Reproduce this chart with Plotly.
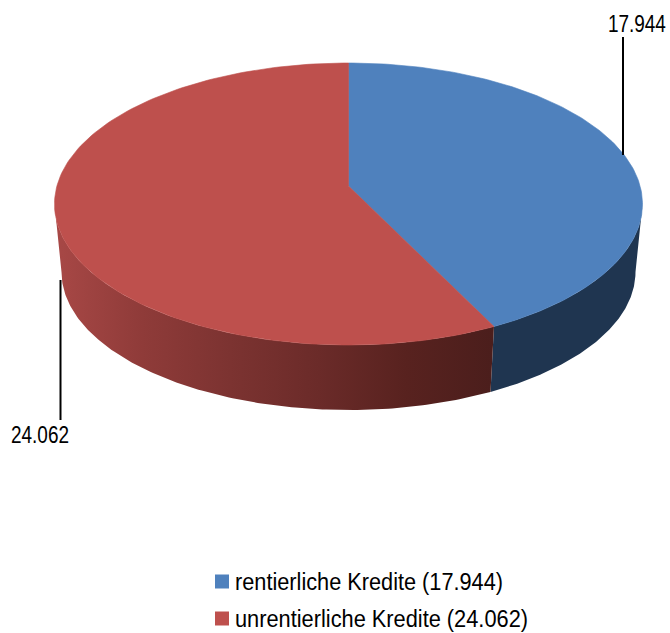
import numpy as np
import plotly.graph_objects as go

# ---- data ----
categories = ["rentierliche Kredite", "unrentierliche Kredite"]
values = [17944, 24062]
value_labels = ["17.944", "24.062"]

# ---- style / layout ----
W, H = 670, 633
FONT = "Liberation Sans, Arial, sans-serif"
TOP_COLORS = ["#4F81BD", "#BE504D"]
BLUE_WALL = "#1F3550"
RED_WALL = ["#A84846", "#8F3B39", "#7C3331", "#6B2B29", "#58221F", "#4B1E1C"]
TOP = dict(cx=348.5, cy=204.0, rx=294.0, ry=141.0)
BOTTOM = dict(cx=348.5, cy=272.0, rx=287.0, ry=138.0)
D = 18.0 / 141.0  # perspective shift of the pie centre


def rim(theta_deg, e):
    """Perspective projection of a disc point at clock angle theta."""
    t = np.radians(np.asarray(theta_deg, dtype=float))
    X, Y = np.sin(t), -np.cos(t)
    den = 1 - D * Y
    return e["cx"] + e["rx"] * X * np.sqrt(1 - D * D) / den, e["cy"] + e["ry"] * (Y - D) / den


def arc(a, b):
    return np.linspace(a, b, 160)


def centre(e):
    return e["cx"], e["cy"] - D * e["ry"]


def poly(x, y, line=None, **kw):
    return go.Scatter(x=list(x), y=list(y), mode="lines", fill="toself",
                      line=line or dict(width=0), hoverinfo="skip", showlegend=False, **kw)


def scale(cols):
    return [[i / (len(cols) - 1), c] for i, c in enumerate(cols)]


total = sum(values)
split = 360.0 * values[0] / total
edge = np.degrees(np.arccos(-D))  # silhouette angle, right side

fig = go.Figure()

# side walls
a = arc(edge, split)
xt, yt = rim(a, TOP); xb, yb = rim(a[::-1], BOTTOM)
fig.add_trace(poly(np.r_[xt, xb], np.r_[yt, yb], fillcolor=BLUE_WALL))
a = arc(split, 360 - edge)
xt, yt = rim(a, TOP); xb, yb = rim(a[::-1], BOTTOM)
fig.add_trace(poly(np.r_[xt, xb], np.r_[yt, yb],
                   fillgradient=dict(type="horizontal", colorscale=scale(RED_WALL))))

# top faces
cx0, cy0 = centre(TOP)
start = 0.0
for v, col in zip(values, TOP_COLORS):
    sweep = 360.0 * v / total
    x, y = rim(arc(start, start + sweep), TOP)
    fig.add_trace(poly(np.r_[cx0, x, cx0], np.r_[cy0, y, cy0], fillcolor=col,
                       line=dict(color=col, width=0.6)))
    start += sweep

# leader lines
for lx, ly in [([623, 623], [37, 155]), ([60.5, 60.5], [280, 420])]:
    fig.add_trace(go.Scatter(x=lx, y=ly, mode="lines", line=dict(color="#000000", width=2),
                             hoverinfo="skip", showlegend=False))

# value labels
for txt, lx, ly in [(value_labels[0], 636.5, 24), (value_labels[1], 40.3, 435)]:
    fig.add_annotation(x=lx, y=ly, text=txt, showarrow=False, xanchor="center", yanchor="middle",
                       width=62, font=dict(family=FONT, size=23, color="#000000"))

# legend
for cat, lab, col, ly, tw in zip(categories, value_labels, TOP_COLORS, [581.5, 618.5], [268, 293]):
    fig.add_trace(go.Scatter(x=[222], y=[ly], mode="markers",
                             marker=dict(symbol="square", size=14, color=col, line=dict(width=0)),
                             hoverinfo="skip", showlegend=False))
    fig.add_annotation(x=235 + tw / 2, y=ly, text=f"{cat} ({lab})", showarrow=False, xanchor="center",
                       yanchor="middle", width=tw + 4, font=dict(family=FONT, size=23, color="#000000"))

fig.update_layout(
    width=W, height=H, margin=dict(l=0, r=0, t=0, b=0),
    paper_bgcolor="white", plot_bgcolor="white", showlegend=False,
    xaxis=dict(range=[0, W], visible=False, fixedrange=True),
    yaxis=dict(range=[H, 0], visible=False, fixedrange=True),
)

# The reference's type is horizontally condensed: fit each text to its measured width.
condense = """
document.body.style.margin='0';document.body.style.overflow='hidden';
var fit=function(){document.querySelectorAll('.annotation-text').forEach(function(t){
  var s=t.textContent,w=s.length<10?58:(s.indexOf('unren')===0?293:268);
  t.setAttribute('textLength',w);t.setAttribute('lengthAdjust','spacingAndGlyphs');});};
fit();var gd=document.getElementById('{plot_id}');if(gd.on){gd.on('plotly_afterplot',fit);}
"""
fig.write_html("out.html", config={"displayModeBar": False}, post_script=condense)
